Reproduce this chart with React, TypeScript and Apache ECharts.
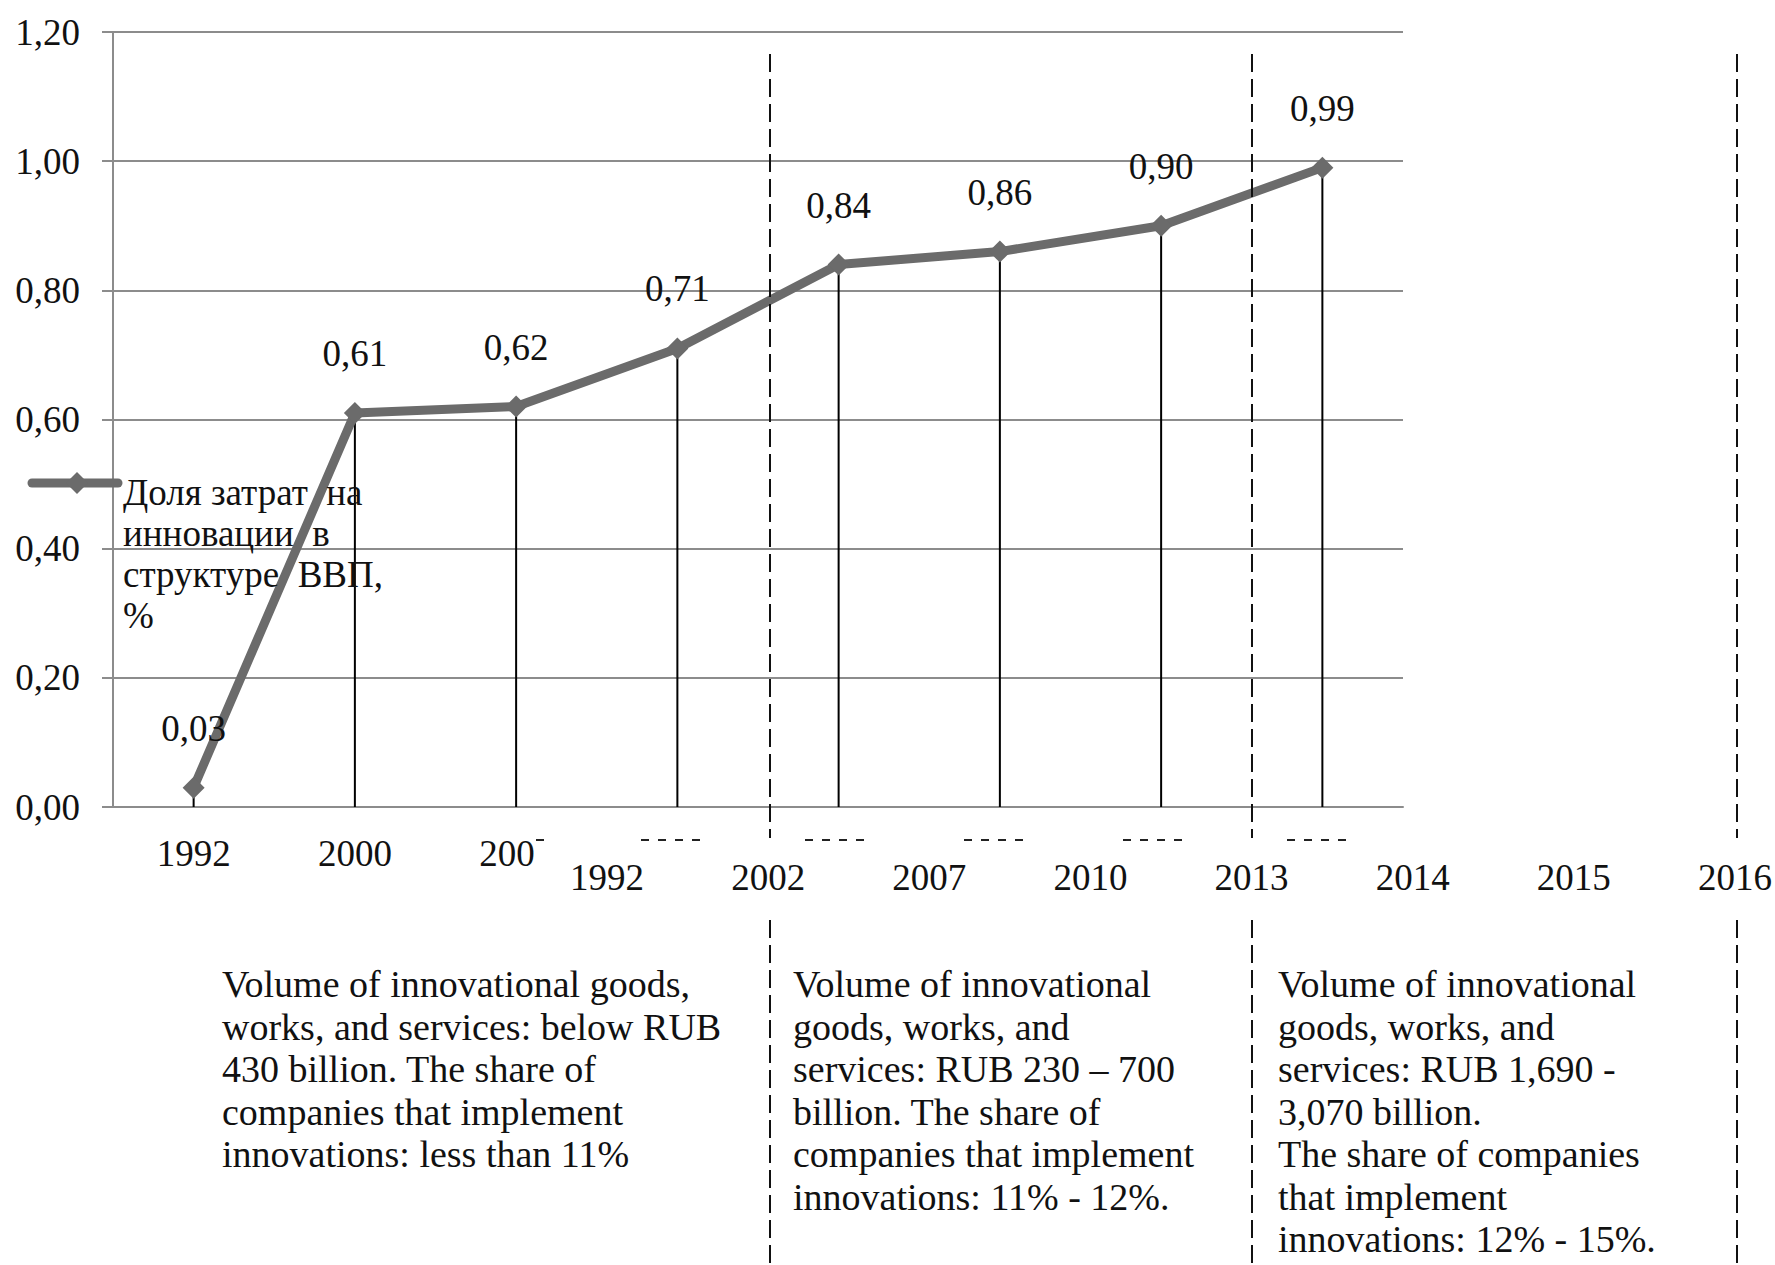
import React, { useEffect, useRef } from "react";
import * as echarts from "echarts";

// Visible first-row axis labels (the rest are hidden under overlaid boxes in the source)
const row1Labels = ["1992", "2000", "200\u00a0\u00a0", "", "", "", "", ""];
// Overlaid second row of year labels
const row2Labels = ["1992", "2002", "2007", "2010", "2013", "2014", "2015", "2016"];
// Share of innovation expenditure in GDP, %
const shareValues = [0.03, 0.61, 0.62, 0.71, 0.84, 0.86, 0.9, 0.99];
const seriesName = "Доля затрат на инновации в структуре ВВП, %";
const legendLines = ["Доля затрат  на", "инновации  в", "структуре  ВВП,", "%"];

const block1 = [
  "Volume of innovational goods,",
  "works, and services: below RUB",
  "430 billion. The share of",
  "companies that implement",
  "innovations: less than 11%",
];
const block2 = [
  "Volume of innovational",
  "goods, works, and",
  "services: RUB 230 – 700",
  "billion. The share of",
  "companies that implement",
  "innovations: 11% - 12%.",
];
const block3 = [
  "Volume of innovational",
  "goods, works, and",
  "services: RUB 1,690 -",
  "3,070 billion.",
  "The share of companies",
  "that implement",
  "innovations: 12% - 15%.",
];

const FONT = "'Liberation Serif', 'Times New Roman', serif";
const FS = 37;
const fmt = (v: number) => v.toFixed(2).replace(".", ",");

export default function App() {
  const ref = useRef<HTMLDivElement>(null);
  useEffect(() => {
    document.body.style.margin = "0";
    if (!ref.current) return;
    const chart = echarts.init(ref.current, null, { renderer: "svg" });

    const dashV = (x: number) => [
      { type: "line", shape: { x1: x, y1: 54, x2: x, y2: 838 }, style: { stroke: "#111", lineWidth: 2, lineDash: [18, 7] }, z: 5 },
      { type: "line", shape: { x1: x, y1: 920, x2: x, y2: 1265 }, style: { stroke: "#111", lineWidth: 2, lineDash: [18, 7] }, z: 5 },
    ];
    const dashH = (x1: number, x2: number) => ({
      type: "line",
      shape: { x1, y1: 840, x2, y2: 840 },
      style: { stroke: "#222", lineWidth: 2, lineDash: [8, 9] },
      z: 5,
    });
    const block = (x: number, lines: string[]) => ({
      type: "text",
      x,
      y: 963,
      style: { text: lines.join("\n"), font: `38px ${FONT}`, fill: "#111", lineHeight: 42.5, verticalAlign: "top", align: "left" },
      z: 5,
    });

    chart.setOption({
      animation: false,
      backgroundColor: "#ffffff",
      grid: [
        { left: 113, right: 372, top: 32, bottom: 458 },
        { left: 607, right: 40, top: 32, bottom: 458 },
      ],
      xAxis: [
        {
          type: "category",
          gridIndex: 0,
          data: row1Labels,
          boundaryGap: true,
          axisLine: { lineStyle: { color: "#8c8c8c", width: 2 } },
          axisTick: { show: false },
          axisLabel: { margin: 28, fontSize: FS, fontFamily: FONT, color: "#111", interval: 0 },
          splitLine: { show: false },
        },
        {
          type: "category",
          gridIndex: 1,
          data: row2Labels,
          boundaryGap: false,
          axisLine: { show: false },
          axisTick: { show: false },
          axisLabel: { margin: 52, fontSize: FS, fontFamily: FONT, color: "#111", interval: 0 },
          splitLine: { show: false },
        },
      ],
      yAxis: [
        {
          type: "value",
          gridIndex: 0,
          min: 0,
          max: 1.2,
          interval: 0.2,
          axisLine: { show: true, lineStyle: { color: "#8c8c8c", width: 2 } },
          axisTick: { show: true, length: 11, lineStyle: { color: "#8c8c8c", width: 2 } },
          axisLabel: { margin: 33, fontSize: FS, fontFamily: FONT, color: "#111", formatter: (v: number) => fmt(v) },
          splitLine: { show: true, lineStyle: { color: "#8c8c8c", width: 2 } },
        },
        { type: "value", gridIndex: 1, show: false, min: 0, max: 1.2 },
      ],
      series: [
        {
          type: "bar",
          name: "drop",
          xAxisIndex: 0,
          yAxisIndex: 0,
          data: shareValues,
          barWidth: 2,
          itemStyle: { color: "#000" },
          silent: true,
          z: 2,
        },
        {
          type: "line",
          name: seriesName,
          xAxisIndex: 0,
          yAxisIndex: 0,
          data: shareValues,
          symbol: "diamond",
          symbolSize: 22,
          lineStyle: { color: "#6b6b6b", width: 9 },
          itemStyle: { color: "#6b6b6b" },
          label: {
            show: true,
            position: "top",
            distance: 30,
            fontSize: FS,
            fontFamily: FONT,
            color: "#111",
            formatter: (p: any) => fmt(p.value),
          },
          z: 3,
        },
      ],
      graphic: [
        // legend
        { type: "line", shape: { x1: 32, y1: 483, x2: 118, y2: 483 }, style: { stroke: "#6b6b6b", lineWidth: 9, lineCap: "round" }, z: 6 },
        { type: "polygon", shape: { points: [[77, 472], [88, 483], [77, 494], [66, 483]] }, style: { fill: "#6b6b6b" }, z: 6 },
        {
          type: "text",
          x: 123,
          y: 472,
          style: { text: legendLines.join("\n"), font: `${FS}px ${FONT}`, fill: "#111", lineHeight: 41, verticalAlign: "top", align: "left" },
          z: 6,
        },
        ...dashV(770),
        ...dashV(1252),
        ...dashV(1737),
        dashH(536, 553),
        dashH(641, 709),
        dashH(805, 868),
        dashH(964, 1032),
        dashH(1123, 1191),
        dashH(1287, 1355),
        block(222, block1),
        block(793, block2),
        block(1278, block3),
      ],
    });
    return () => chart.dispose();
  }, []);
  return <div ref={ref} style={{ width: 1775, height: 1265 }} />;
}
